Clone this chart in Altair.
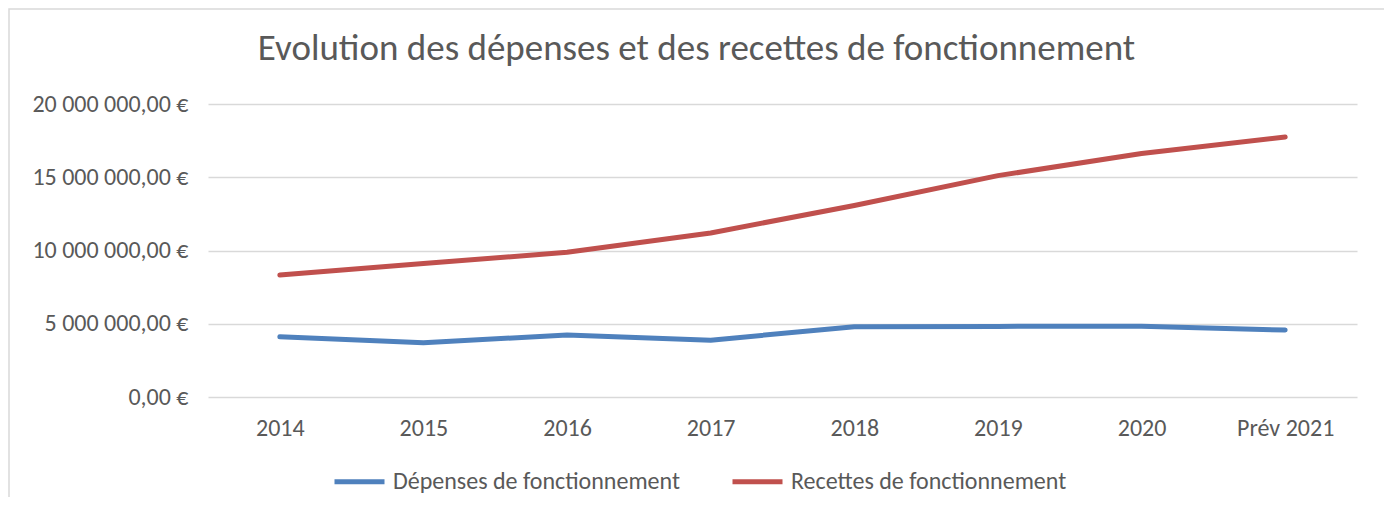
import altair as alt
import pandas as pd

years = ["2014", "2015", "2016", "2017", "2018", "2019", "2020", "Prév 2021"]
depenses = [4110000, 3700000, 4240000, 3880000, 4800000, 4820000, 4830000, 4570000]
recettes = [8320000, 9110000, 9880000, 11200000, 13070000, 15110000, 16620000, 17750000]
series_names = ["Dépenses de fonctionnement", "Recettes de fonctionnement"]
series_colors = ["#4F81BD", "#C0504D"]
y_ticks = [0, 5000000, 10000000, 15000000, 20000000]
title_text = "Evolution des dépenses et des recettes de fonctionnement"

rows = []
for name, vals in zip(series_names, [depenses, recettes]):
    for yr, v in zip(years, vals):
        rows.append({"Année": yr, "Montant": v, "Série": name})
df = pd.DataFrame(rows)

FONT = "Carlito, Calibri, Lato, sans-serif"
GREY = "#595959"
W, H = 1149, 293

label_expr = ("replace(replace(format(datum.value, ',.2f'), regexp(',', 'g'), ' '), '.', ',') + ' €'")

lines = alt.Chart(df).mark_line(strokeWidth=5, strokeCap="round", strokeJoin="round").encode(
    x=alt.X("Année:N", sort=years, scale=alt.Scale(padding=0.5),
            axis=alt.Axis(title=None, labelAngle=0, ticks=False, tickSize=0, domain=False,
                          grid=False, labelFontSize=24, labelColor=GREY, labelFont=FONT,
                          labelPadding=19)),
    y=alt.Y("Montant:Q", scale=alt.Scale(domain=[0, 20000000], nice=False),
            axis=alt.Axis(title=None, values=y_ticks, labelExpr=label_expr, ticks=False,
                          tickSize=0, domain=False, grid=True, gridColor="#d9d9d9",
                          gridWidth=1.3, labelFontSize=24, labelColor=GREY, labelFont=FONT,
                          labelPadding=20)),
    color=alt.Color("Série:N", sort=series_names,
                    scale=alt.Scale(domain=series_names, range=series_colors),
                    legend=alt.Legend(title=None, orient="none", legendX=124, legendY=350,
                                      direction="horizontal", symbolType="stroke",
                                      symbolSize=2500, symbolStrokeWidth=5,
                                      labelFontSize=24, labelColor=GREY, labelFont=FONT,
                                      labelLimit=0, labelOffset=6, columnPadding=42)),
)

border_df = pd.DataFrame({"k": [0]})
border = alt.Chart(border_df).mark_rect(fillOpacity=0, stroke="#d9d9d9", strokeWidth=1.5).encode(
    x=alt.value(-199), x2=alt.value(1177), y=alt.value(-95), y2=alt.value(420)
)

chart = alt.layer(border, lines).properties(
    width=W, height=H,
    title=alt.TitleParams(title_text, fontSize=37, font=FONT, color=GREY, fontWeight="normal",
                          anchor="middle", dx=-86, offset=-89, baseline="alphabetic"),
    autosize=alt.AutoSizeParams(type="none"),
    padding={"left": 200, "top": 96, "right": 27, "bottom": 100},
).configure_view(stroke=None)

chart.save("out.html", embed_options={"renderer": "svg", "actions": False})
